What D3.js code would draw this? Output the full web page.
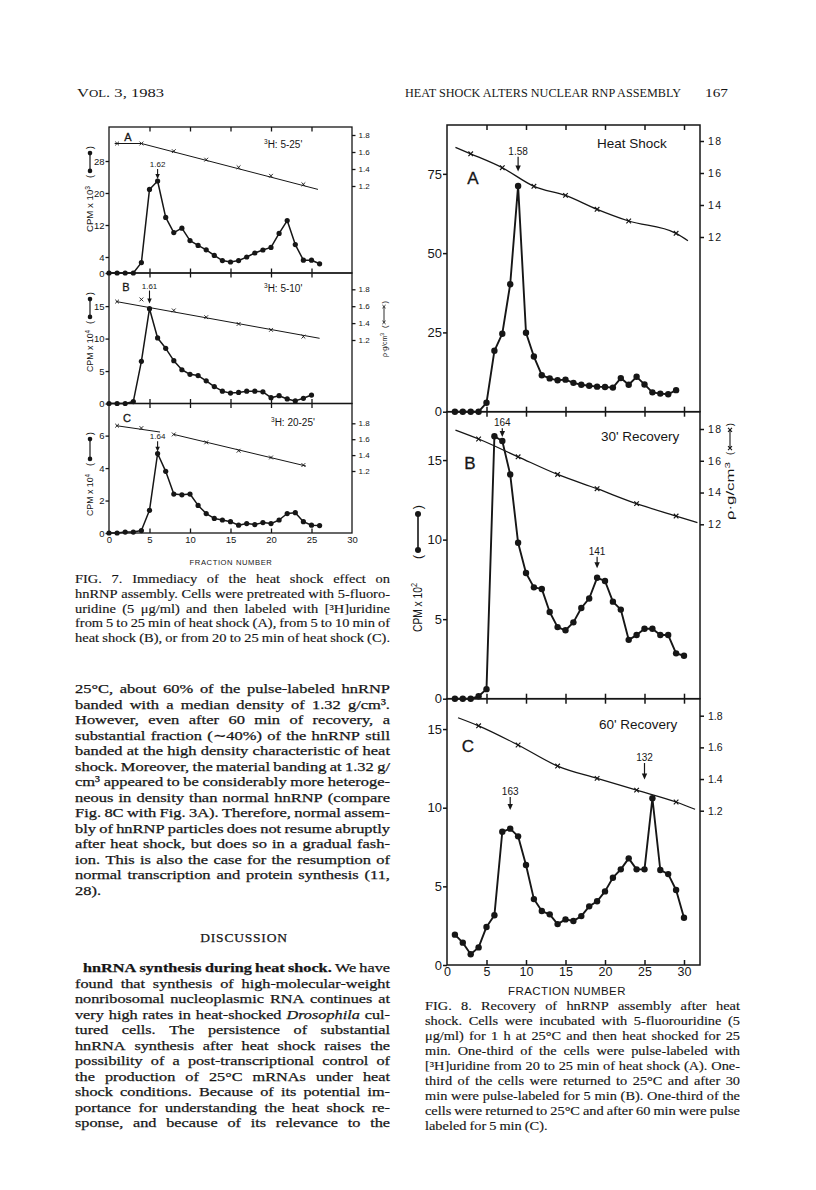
<!DOCTYPE html>
<html><head><meta charset="utf-8">
<script src="https://cdn.jsdelivr.net/npm/d3@7/dist/d3.min.js"></script>
<style>html,body{margin:0;padding:0;background:#fff;} svg{display:block;}</style>
</head><body>
<svg id="page" width="816" height="1190" xmlns="http://www.w3.org/2000/svg"></svg>
<script>
// ================= DATA =================
// FIG. 7 — fraction numbers and CPM values
const frac7A = [0,1,2,3,4,5,6,7,8,9,10,11,12,13,14,15,16,17,18,19,20,21,22,23,24,25,26];
const cpm7A  = [0,0,0,0,2.6,20.9,23.0,13.9,10.1,11.2,8.1,6.9,5.8,4.4,3.1,2.75,3.1,4.0,5.0,5.75,6.4,9.9,13.1,7.1,3.2,3.2,2.3];
const frac7B = [0,1,2,3,4,5,6,7,8,9,10,11,12,13,14,15,16,17,18,19,20,21,22,23,24,25];
const cpm7B  = [0,0,0,0.3,6.5,14.6,10.1,8.5,6.6,5.2,4.5,4.3,3.5,2.6,1.9,1.6,1.7,1.9,1.9,1.8,0.9,1.2,0.7,0.4,0.8,1.3];
const frac7C = [0,1,2,3,4,5,6,7,8,9,10,11,12,13,14,15,16,17,18,19,20,21,22,23,24,25,26];
const cpm7C  = [0,0,0.06,0.06,0.15,1.4,4.9,3.8,2.4,2.35,2.4,1.7,1.2,0.9,0.8,0.7,0.48,0.58,0.52,0.64,0.58,0.8,1.2,1.25,0.7,0.48,0.46];
// FIG. 7 — density (x—x)
const dens7Frac = [1,4,8,12,16,20,24];
const dens7A = [1.70,1.70,1.61,1.51,1.42,1.32,1.22];
const dens7B = [1.655,1.68,1.55,1.47,1.39,1.32,1.24];
const dens7C = [1.77,1.74,1.66,1.56,1.455,1.37,1.275];
const densLine7A = [[[0.7,1.70],[4,1.70],[25.8,1.16]]];
const densLine7B = [[[0.9,1.655],[26,1.22]]];
const densLine7C = [[[0.9,1.77],[6.3,1.69]],[[8,1.66],[24.3,1.263]]];
// FIG. 7 — annotations (fraction, arrow tip, arrow tail in CPM units)
const ann7A = [{f:6, tip:23.5, tail:26.0, label:"1.62"}];
const ann7B = [{f:5, tip:15.4, tail:17.4, label:"1.61"}];
const ann7C = [{f:6, tip:5.0, tail:5.65, label:"1.64"}];
const yTicks7A = [0,4,12,20,28];
const yTicks7B = [0,5,10,15];
const yTicks7C = [0,2,4,6];
const xTicks7 = [0,5,10,15,20,25,30];

// FIG. 8 — fraction numbers and CPM values
const frac8A = [1,2,3,4,5,6,7,8,9,10,11,12,13,14,15,16,17,18,19,20,21,22,23,24,25,26,27,28,29];
const cpm8A  = [0,0,0,0,2.8,19.2,24.6,40.2,71.2,24.9,17.4,11.5,10.5,9.9,10.1,9.1,8.5,8.2,7.9,7.8,7.6,10.6,8.5,11.0,8.6,6.1,5.7,5.5,6.8];
const frac8B = [1,2,3,4,5,6,7,8,9,10,11,12,13,14,15,16,17,18,19,20,21,22,23,24,25,26,27,28,29,30];
const cpm8B  = [0,0,0,0.15,0.6,16.5,16.2,14.1,9.8,7.9,7.0,6.9,5.45,4.5,4.3,4.8,5.7,6.3,7.6,7.4,6.1,5.6,3.7,4.0,4.4,4.4,4.0,4.0,2.85,2.7];
const frac8C = [1,2,3,4,5,6,7,8,9,10,11,12,13,14,15,16,17,18,19,20,21,22,23,24,25,26,27,28,29,30];
const cpm8C  = [1.93,1.42,0.68,1.12,2.42,3.16,8.47,8.67,8.18,6.36,4.19,3.43,3.22,2.6,2.9,2.8,3.11,3.73,4.05,4.68,5.55,6.08,6.78,6.08,6.08,10.6,6.04,5.78,4.77,3.0];
// FIG. 8 — density (x—x)
const dens8FracA = [3,7,11,15,19,23,29];
const dens8A = [1.72,1.633,1.517,1.46,1.373,1.30,1.223];
const dens8FracBC = [4,9,14,19,24,29];
const dens8B = [1.737,1.625,1.514,1.424,1.33,1.252];
const dens8C = [1.736,1.615,1.482,1.404,1.33,1.255];
const densEnds8A = [[1.07,1.76],[30.5,1.177]];
const densEnds8B = [[1.07,1.793],[31.7,1.21]];
const densEnds8C = [[1.4,1.787],[31.4,1.209]];
// FIG. 8 — annotations
const ann8A = [{f:9, tip:75.7, tail:80.4, label:"1.58"}];
const ann8B = [{f:7, tip:16.45, tail:17.0, label:"164"},{f:19, tip:8.2, tail:8.93, label:"141"}];
const ann8C = [{f:8, tip:9.85, tail:10.68, label:"163"},{f:25, tip:11.8, tail:12.84, label:"132"}];
const yTicks8A = [0,25,50,75];
const yTicks8BC = [0,5,10,15];
const xTicks8 = [0,5,10,15,20,25,30];
const densTicks = [1.2,1.4,1.6,1.8];
const densLabels7 = ["1.2","1.4","1.6","1.8"];
const densLabels8AB = ["12","14","16","18"];
const densLabels8C = ["1.2","1.4","1.6","1.8"];

// Text
const captionFig7 = [
 "FIG. 7. Immediacy of the heat shock effect on",
 "hnRNP assembly. Cells were pretreated with 5-fluoro-",
 "uridine (5 μg/ml) and then labeled with [³H]uridine",
 "from 5 to 25 min of heat shock (A), from 5 to 10 min of",
 "heat shock (B), or from 20 to 25 min of heat shock (C)."
];
const captionFig8 = [
 "FIG. 8. Recovery of hnRNP assembly after heat",
 "shock. Cells were incubated with 5-fluorouridine (5",
 "μg/ml) for 1 h at 25°C and then heat shocked for 25",
 "min. One-third of the cells were pulse-labeled with",
 "[³H]uridine from 20 to 25 min of heat shock (A). One-",
 "third of the cells were returned to 25°C and after 30",
 "min were pulse-labeled for 5 min (B). One-third of the",
 "cells were returned to 25°C and after 60 min were pulse",
 "labeled for 5 min (C)."
];
const bodyPara1 = [
 "25°C, about 60% of the pulse-labeled hnRNP",
 "banded with a median density of 1.32 g/cm³.",
 "However, even after 60 min of recovery, a",
 "substantial fraction (∼40%) of the hnRNP still",
 "banded at the high density characteristic of heat",
 "shock. Moreover, the material banding at 1.32 g/",
 "cm³ appeared to be considerably more heteroge-",
 "neous in density than normal hnRNP (compare",
 "Fig. 8C with Fig. 3A). Therefore, normal assem-",
 "bly of hnRNP particles does not resume abruptly",
 "after heat shock, but does so in a gradual fash-",
 "ion. This is also the case for the resumption of",
 "normal transcription and protein synthesis (11,",
 "28)."
];
const bodyPara2 = [
 "**hnRNA synthesis during heat shock.** We have",
 "found that synthesis of high-molecular-weight",
 "nonribosomal nucleoplasmic RNA continues at",
 "very high rates in heat-shocked _Drosophila_ cul-",
 "tured cells. The persistence of substantial",
 "hnRNA synthesis after heat shock raises the",
 "possibility of a post-transcriptional control of",
 "the production of 25°C mRNAs under heat",
 "shock conditions. Because of its potential im-",
 "portance for understanding the heat shock re-",
 "sponse, and because of its relevance to the"
];

// ================= DRAWING =================
const INK = "#161616";
const SANS = "'Liberation Sans', Arial, Helvetica, sans-serif";
const SERIF = "'Liberation Serif', 'Times New Roman', Times, serif";
const svg = d3.select("#page");
svg.append("rect").attr("width",816).attr("height",1190).attr("fill","#fff");

function zip(a,b){ return a.map((v,i)=>({f:v, v:b[i]})); }

function drawPanel(o){
  const g = svg.append("g");
  const x = o.x;
  const y = d3.scaleLinear().domain(o.yDom).range([o.bottom, o.top]);
  const dy = d3.scaleLinear().domain([1.2,1.8]).range(o.densPx);
  const styleAxis = (a, fs) => {
    a.attr("color", INK).attr("font-family", SANS).attr("font-size", fs);
    a.select(".domain").remove();
    a.selectAll("line").attr("stroke-width", o.frameW);
  };
  g.append("g").attr("transform",`translate(${o.left},0)`)
    .call(d3.axisLeft(y).tickValues(o.yTicks).tickSize(o.tick).tickPadding(1).tickFormat(d3.format("d")))
    .call(a=>styleAxis(a,o.fs));
  g.append("g").attr("transform",`translate(${o.right},0)`)
    .call(d3.axisRight(dy).tickValues(densTicks).tickSize(o.tick).tickPadding(o.rPad).tickFormat((d,i)=>o.dLabels[i]))
    .call(a=>{styleAxis(a,o.rfs); a.selectAll("text").attr("letter-spacing", o.rSpacing||0);});
  const inner = o.xTicks.filter(v=>x(v)>o.left+1 && x(v)<o.right-1);
  g.append("g").attr("transform",`translate(0,${o.bottom})`)
    .call(d3.axisTop(x).tickValues(inner).tickSize(o.xtick).tickFormat("").tickSizeOuter(0))
    .call(a=>styleAxis(a,o.fs));
  g.append("g").attr("transform",`translate(0,${o.top})`)
    .call(d3.axisBottom(x).tickValues(inner).tickSize(o.xtick).tickFormat("").tickSizeOuter(0))
    .call(a=>styleAxis(a,o.fs));
  if(o.xLabels){
    g.append("g").attr("transform",`translate(0,${o.bottom})`)
      .call(d3.axisBottom(x).tickValues(o.xTicks).tickSize(0).tickPadding(o.xPad).tickFormat(d3.format("d")))
      .call(a=>{styleAxis(a,o.xfs);});
  }
  g.append("rect").attr("x",o.left).attr("y",o.top).attr("width",o.right-o.left).attr("height",o.bottom-o.top)
    .attr("fill","none").attr("stroke",INK).attr("stroke-width",o.frameW);
  const dl = d3.line().x(d=>x(d[0])).y(d=>dy(d[1])).curve(o.curve||d3.curveLinear);
  o.densLine.forEach(seg=>{
    g.append("path").attr("d",dl(seg)).attr("fill","none").attr("stroke",INK).attr("stroke-width",o.dW);
  });
  const s = o.xs;
  g.selectAll(null).data(zip(o.dF,o.dV)).join("path")
    .attr("transform",d=>`translate(${x(d.f)},${dy(d.v)})`)
    .attr("d",`M${-s},${-s}L${s},${s}M${-s},${s}L${s},${-s}`)
    .attr("stroke",INK).attr("stroke-width",o.dW*0.9).attr("fill","none");
  const pts = zip(o.frac,o.cpm);
  const cl = d3.line().x(d=>x(d.f)).y(d=>y(d.v));
  g.append("path").attr("d",cl(pts)).attr("fill","none").attr("stroke",INK).attr("stroke-width",o.lw).attr("stroke-linejoin","round");
  g.selectAll(null).data(pts).join("circle").attr("cx",d=>x(d.f)).attr("cy",d=>y(d.v)).attr("r",o.r).attr("fill",INK);
  o.ann.forEach(a=>{
    const ax = x(a.f), yt = y(a.tip), yl = y(a.tail);
    g.append("line").attr("x1",ax).attr("x2",ax).attr("y1",yl).attr("y2",yt-o.ah+1).attr("stroke",INK).attr("stroke-width",o.aw);
    g.append("path").attr("d",`M${ax-o.ah*0.45},${yt-o.ah}L${ax+o.ah*0.45},${yt-o.ah}L${ax},${yt}Z`).attr("fill",INK);
    g.append("text").attr("x",ax).attr("y",yl-2).attr("text-anchor","middle").attr("font-family",SANS)
      .attr("font-size",o.afs).attr("fill",INK).text(a.label);
  });
  g.append("text").attr("x",o.letterX).attr("y",o.letterY).attr("text-anchor","middle").attr("font-family",SANS)
    .attr("font-size",o.lfs).attr("fill",INK).attr("stroke",INK).attr("stroke-width",o.lsw||0).text(o.letter);
  const t = g.append("text").attr("x",o.titleX).attr("y",o.titleY).attr("font-family",SANS).attr("font-size",o.tfs).attr("fill",INK);
  if(o.titleSup){
    t.append("tspan").attr("font-size",o.tfs*0.65).attr("dy",-o.tfs*0.38).text(o.titleSup);
    t.append("tspan").attr("dy",o.tfs*0.38).text(o.title);
  } else t.text(o.title);
}

// ---- FIG 7 ----
const x7 = d3.scaleLinear().domain([0,30]).range([109,352]);
const base7 = {x:x7, left:109, right:352, tick:3.5, xtick:4.5, frameW:1.3, fs:9.5, rfs:8, rPad:3, dW:1.0, xs:1.9,
  lw:1.5, r:2.6, ah:5, aw:1.1, afs:8, lfs:11, lsw:0.3, tfs:10, xTicks:xTicks7, dLabels:densLabels7};
drawPanel(Object.assign({}, base7, {top:127, bottom:273, yDom:[0,36.5], yTicks:yTicks7A, densPx:[186,135],
  frac:frac7A, cpm:cpm7A, dF:dens7Frac, dV:dens7A, densLine:densLine7A, ann:ann7A,
  letter:"A", letterX:128, letterY:141, title:"H: 5-25'", titleSup:"3", titleX:264, titleY:148}));
drawPanel(Object.assign({}, base7, {top:273, bottom:403.5, yDom:[0,20.1], yTicks:yTicks7B, densPx:[340,289.3],
  frac:frac7B, cpm:cpm7B, dF:dens7Frac, dV:dens7B, densLine:densLine7B, ann:ann7B,
  letter:"B", letterX:126, letterY:291, title:"H: 5-10'", titleSup:"3", titleX:264, titleY:292}));
drawPanel(Object.assign({}, base7, {top:403.5, bottom:533, yDom:[0,7.98], yTicks:yTicks7C, densPx:[471,423.3],
  frac:frac7C, cpm:cpm7C, dF:dens7Frac, dV:dens7C, densLine:densLine7C, ann:ann7C,
  letter:"C", letterX:127, letterY:422, title:"H: 20-25'", titleSup:"3", titleX:271, titleY:426,
  xLabels:true, xPad:3, xfs:9.5}));
svg.append("text").attr("x",231).attr("y",565).attr("text-anchor","middle").attr("font-family",SANS)
  .attr("font-size",7.6).attr("letter-spacing",0.6).attr("fill",INK).text("FRACTION NUMBER");

// ---- FIG 8 ----
const x8 = d3.scaleLinear().domain([0,30]).range([447,684]);
const base8 = {x:x8, left:447, right:700, tick:4, xtick:5, frameW:1.5, fs:13, rfs:10.5, rPad:4, rSpacing:1.5, dW:1.3, xs:2.3,
  lw:1.9, r:3.2, ah:6, aw:1.2, afs:10, lfs:17, lsw:0.3, tfs:13.5, xTicks:xTicks8, curve:d3.curveMonotoneX};
function withEnds(fr, vals, ends){ return [[ends[0]].concat(fr.map((f,i)=>[f,vals[i]])).concat([ends[1]])]; }
drawPanel(Object.assign({}, base8, {top:125, bottom:411.7, yDom:[0,90.4], yTicks:yTicks8A, densPx:[237,141], dLabels:densLabels8AB,
  frac:frac8A, cpm:cpm8A, dF:dens8FracA, dV:dens8A, densLine:withEnds(dens8FracA,dens8A,densEnds8A), ann:ann8A,
  letter:"A", letterX:473, letterY:184, title:"Heat Shock", titleX:597, titleY:148}));
drawPanel(Object.assign({}, base8, {top:411.7, bottom:698.7, yDom:[0,18.04], yTicks:yTicks8BC, densPx:[524.3,429], dLabels:densLabels8AB,
  frac:frac8B, cpm:cpm8B, dF:dens8FracBC, dV:dens8B, densLine:withEnds(dens8FracBC,dens8B,densEnds8B), ann:ann8B,
  letter:"B", letterX:470, letterY:469, title:"30' Recovery", titleX:601, titleY:441}));
drawPanel(Object.assign({}, base8, {top:698.7, bottom:965, yDom:[0,16.93], yTicks:yTicks8BC, densPx:[810.7,715.7], dLabels:densLabels8C, rSpacing:0,
  frac:frac8C, cpm:cpm8C, dF:dens8FracBC, dV:dens8C, densLine:withEnds(dens8FracBC,dens8C,densEnds8C), ann:ann8C,
  letter:"C", letterX:468, letterY:752, title:"60' Recovery", titleX:599, titleY:729,
  xLabels:true, xPad:2, xfs:12.5}));
svg.append("text").attr("x",567).attr("y",995).attr("text-anchor","middle").attr("font-family",SANS)
  .attr("font-size",11.5).attr("letter-spacing",0.4).attr("fill",INK).text("FRACTION NUMBER");

// ---- rotated axis titles ----
function rotText(cx, yb, yt, str, sup, fs){
  const t = svg.append("text").attr("transform",`translate(${cx},${yb}) rotate(-90)`).attr("dy","0.35em")
    .attr("font-family",SANS).attr("font-size",fs).attr("fill",INK);
  t.append("tspan").text(str);
  if(sup) t.append("tspan").attr("font-size",fs*0.7).attr("dy",-fs*0.4).text(sup);
  t.attr("textLength", yb-yt).attr("lengthAdjust","spacingAndGlyphs");
}
function rotSym(cx, yb, yt, kind, fs, r, lw){
  const pw = fs*0.4;
  svg.append("text").attr("transform",`translate(${cx},${yb}) rotate(-90)`).attr("dy","0.35em")
    .attr("font-family",SANS).attr("font-size",fs).attr("fill",INK).text("(");
  svg.append("text").attr("transform",`translate(${cx},${yt}) rotate(-90)`).attr("dy","0.35em").attr("text-anchor","end")
    .attr("font-family",SANS).attr("font-size",fs).attr("fill",INK).text(")");
  const y1 = yb - pw - r - 1, y2 = yt + pw + r + 1;
  svg.append("line").attr("x1",cx).attr("x2",cx).attr("y1",y1).attr("y2",y2).attr("stroke",INK).attr("stroke-width",lw);
  if(kind==="dot"){
    [y1,y2].forEach(yy=>svg.append("circle").attr("cx",cx).attr("cy",yy).attr("r",r).attr("fill",INK));
  } else {
    [y1,y2].forEach(yy=>svg.append("path").attr("transform",`translate(${cx},${yy})`)
      .attr("d",`M${-r},${-r}L${r},${r}M${-r},${r}L${r},${-r}`).attr("stroke",INK).attr("stroke-width",lw).attr("fill","none"));
  }
}
rotText(90, 232, 186, "CPM x 10", "3", 9.5); rotSym(90, 178, 146, "dot", 9.5, 2.3, 1.2);
rotText(90, 372, 330, "CPM x 10", "4", 9.5); rotSym(90, 324, 292, "dot", 9.5, 2.3, 1.2);
rotText(90, 516, 474, "CPM x 10", "4", 9.5); rotSym(90, 466, 432, "dot", 9.5, 2.3, 1.2);
rotText(384, 357, 333, "ρ·g/cm", "3", 7.5); rotSym(384, 328, 301, "x", 7.5, 1.6, 0.9);
rotText(418, 632, 583, "CPM x 10", "2", 12.5); rotSym(418, 559, 505, "dot", 12.5, 3, 1.6);
rotText(730, 520, 462, "ρ·g/cm", "3", 10); rotSym(730, 455, 423, "x", 9.5, 2, 1.1);

// ---- header ----
const hdr = svg.append("text").attr("x",77).attr("y",97).attr("font-family",SERIF).attr("fill",INK).attr("font-size",13.5)
  .attr("textLength",87).attr("lengthAdjust","spacingAndGlyphs");
hdr.append("tspan").text("V");
hdr.append("tspan").attr("font-size",10.5).text("OL");
hdr.append("tspan").text(". 3, 1983");
svg.append("text").attr("x",405).attr("y",97).attr("font-family",SERIF).attr("font-size",13).attr("fill",INK)
  .attr("textLength",276).attr("lengthAdjust","spacingAndGlyphs").text("HEAT SHOCK ALTERS NUCLEAR RNP ASSEMBLY");
svg.append("text").attr("x",705).attr("y",97).attr("font-family",SERIF).attr("font-size",13.5).attr("fill",INK)
  .attr("textLength",23).attr("lengthAdjust","spacingAndGlyphs").text("167");

// ---- justified text (glyphs stretched horizontally to fill the column like the print) ----
function textBlock(lines, x0, y0, lh, width, fs, lastIdx, indent0, sw){
  const space = fs*0.24;
  const rows = lines.map((ln,i)=>{
    const yy = y0 + i*lh;
    const ind = (i===0 && indent0) ? indent0 : 0;
    let bold=false, ital=false;
    const els = ln.split(" ").map(w=>{
      let s = w; let b = bold, it = ital;
      if(s.startsWith("**")){ bold=true; b=true; s=s.slice(2); }
      if(s.startsWith("_")){ ital=true; it=true; s=s.slice(1); }
      let eb=false, ei=false;
      if(s.endsWith("**")){ s=s.slice(0,-2); eb=true; }
      if(s.endsWith("_")){ s=s.slice(0,-1); ei=true; }
      const t = svg.append("text").attr("x",0).attr("y",yy).attr("font-family",SERIF).attr("font-size",fs).attr("fill",INK)
        .attr("stroke",INK).attr("stroke-width",sw||0)
        .attr("font-weight",b?"bold":"normal").attr("font-style",it?"italic":"normal").text(s);
      if(eb) bold=false; if(ei) ital=false;
      return t;
    });
    const ws = els.map(e=>e.node().getComputedTextLength());
    return {els, ws, ind, last: lastIdx.includes(i)};
  });
  const k = d3.min(rows.filter(r=>!r.last && r.els.length>1),
                   r => (width - r.ind - (r.els.length-1)*space) / d3.sum(r.ws));
  rows.forEach(r=>{
    const ws2 = r.ws.map(w=>w*k);
    const tot = d3.sum(ws2);
    const gap = (r.last || r.els.length<2) ? space : (width - r.ind - tot)/(r.els.length-1);
    let cx = x0 + r.ind;
    r.els.forEach((e,j)=>{
      e.attr("x",cx).attr("textLength",ws2[j]).attr("lengthAdjust","spacingAndGlyphs");
      cx += ws2[j] + gap;
    });
  });
}
textBlock(captionFig7, 75, 583, 14.8, 315, 12.6, [], 0, 0.15);
textBlock(bodyPara1, 75, 693, 15.5, 315, 13.3, [13], 0, 0.25);
svg.append("text").attr("x",244).attr("y",942).attr("text-anchor","middle").attr("font-family",SERIF)
  .attr("font-size",13.5).attr("letter-spacing",0.8).attr("fill",INK).attr("stroke",INK).attr("stroke-width",0.25).text("DISCUSSION");
textBlock(bodyPara2, 75, 972, 15.5, 315, 13.3, [], 8, 0.25);
textBlock(captionFig8, 425, 1010, 15, 315, 12.6, [8], 0, 0.15);
</script>
</body></html>
